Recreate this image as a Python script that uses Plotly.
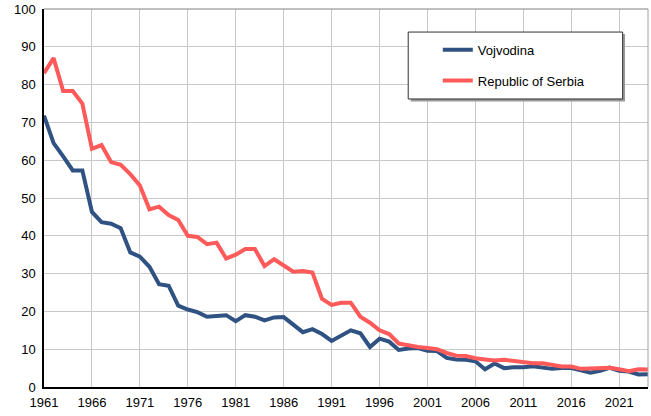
import plotly.graph_objects as go

years = list(range(1961, 2025))

vojvodina = [
    71.8, 64.5, 61.0, 57.3, 57.3, 46.3, 43.6, 43.2, 42.0, 35.6,
    34.5, 31.8, 27.2, 26.8, 21.5, 20.5, 19.8, 18.6, 18.8, 19.0,
    17.4, 19.0, 18.6, 17.6, 18.4, 18.5, 16.5, 14.5, 15.3, 14.0,
    12.2, 13.7, 15.0, 14.2, 10.6, 12.8, 12.0, 9.8, 10.2, 10.3,
    9.6, 9.5, 7.7, 7.3, 7.2, 6.8, 4.7, 6.2, 5.0, 5.2,
    5.2, 5.5, 5.2, 4.8, 5.0, 5.0, 4.4, 3.8, 4.3, 5.1,
    4.3, 4.1, 3.3, 3.4,
]

serbia = [
    83.0, 87.0, 78.3, 78.3, 75.0, 63.0, 64.0, 59.5, 58.8, 56.3,
    53.3, 47.0, 47.7, 45.5, 44.2, 40.0, 39.7, 37.8, 38.2, 34.0,
    35.0, 36.5, 36.5, 32.0, 33.8, 32.2, 30.5, 30.7, 30.3, 23.3,
    21.7, 22.3, 22.3, 18.6, 17.0, 15.0, 14.0, 11.5, 11.0, 10.6,
    10.3, 10.0, 9.0, 8.3, 8.2, 7.6, 7.3, 7.0, 7.2, 6.9,
    6.5, 6.3, 6.3, 5.8, 5.4, 5.4, 4.8, 4.9, 4.9, 5.1,
    4.7, 4.2, 4.7, 4.6,
]

x_ticks = list(range(1961, 2025, 5))
y_ticks = list(range(0, 101, 10))

fig = go.Figure()
fig.add_trace(go.Scatter(x=years, y=vojvodina, mode="lines", name="Vojvodina",
                         legendgroup="a", line=dict(color="#2f5283", width=4)))
fig.add_trace(go.Scatter(x=years, y=serbia, mode="lines", name="Republic of Serbia",
                         legendgroup="b", line=dict(color="#ff5a5a", width=4)))

# top / right frame in grey
fig.add_shape(type="line", xref="paper", yref="paper", x0=0, x1=1, y0=1, y1=1,
              line=dict(color="#808080", width=1))
fig.add_shape(type="line", xref="paper", yref="paper", x0=1, x1=1, y0=0, y1=1,
              line=dict(color="#a0a0a0", width=1))

# legend box with a small shadow (drawn behind the legend entries)
fig.add_shape(type="rect", xref="paper", yref="paper", x0=0.607, x1=0.962, y0=0.755, y1=0.934,
              line=dict(width=0), fillcolor="#9a9a9a", layer="above")
fig.add_shape(type="rect", xref="paper", yref="paper", x0=0.603, x1=0.958, y0=0.762, y1=0.939,
              line=dict(color="#303030", width=1), fillcolor="white", layer="above")

fig.update_xaxes(range=[1961, 2024], tickvals=x_ticks, ticks="", showgrid=True,
                 gridcolor="#c8c8c8", gridwidth=1, showline=True, linecolor="black",
                 linewidth=1.5, zeroline=False, automargin=False, ticklabelstandoff=3,
                 tickfont=dict(size=13, color="black"))
fig.update_yaxes(range=[0, 100], tickvals=y_ticks, ticks="", showgrid=True,
                 gridcolor="#c8c8c8", gridwidth=1, showline=True, linecolor="black",
                 linewidth=1.5, zeroline=False, automargin=False, ticklabelstandoff=4,
                 tickfont=dict(size=13, color="black"))

fig.update_layout(
    width=651, height=416,
    margin=dict(l=44, r=3, t=9, b=29),
    paper_bgcolor="white", plot_bgcolor="white",
    font=dict(family="Liberation Sans, Arial, sans-serif", size=13, color="black"),
    legend=dict(x=0.652, y=0.932, xanchor="left", yanchor="top",
                bgcolor="rgba(0,0,0,0)", borderwidth=0,
                traceorder="grouped", tracegroupgap=11,
                font=dict(size=13)),
)

# drop the default page margin so the figure sits at the window's corner
fig.write_html("out.html", config={"displayModeBar": False},
               post_script="document.body.style.margin = '0';")
